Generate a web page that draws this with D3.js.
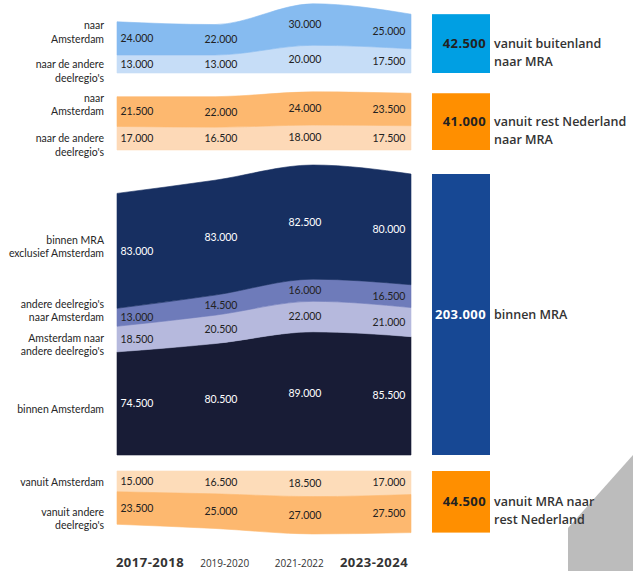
<!DOCTYPE html>
<html>
<head>
<meta charset="utf-8">
<script src="https://cdn.jsdelivr.net/npm/d3@7"></script>
<style>
  html, body { margin: 0; padding: 0; background: #fff; }
  svg { display: block; }
</style>
</head>
<body>
<svg id="chart" width="633" height="571"></svg>
<script>
// ---------- DATA ----------
const years = ["2017-2018", "2019-2020", "2021-2022", "2023-2024"];
const boldYears = ["2017-2018", "2023-2024"];

// vanuit buitenland naar MRA
const buitenlandNaarAmsterdam = [24000, 22000, 30000, 25000];
const buitenlandNaarDeelregios = [13000, 13000, 20000, 17500];
// vanuit rest Nederland naar MRA
const restNLNaarAmsterdam = [21500, 22000, 24000, 23500];
const restNLNaarDeelregios = [17000, 16500, 18000, 17500];
// binnen MRA
const binnenMRAExclAmsterdam = [83000, 83000, 82500, 80000];
const deelregiosNaarAmsterdam = [13000, 14500, 16000, 16500];
const amsterdamNaarDeelregios = [18500, 20500, 22000, 21000];
const binnenAmsterdam = [74500, 80500, 89000, 85500];
// vanuit MRA naar rest Nederland
const vanuitAmsterdam = [15000, 16500, 18500, 17000];
const vanuitAndereDeelregios = [23500, 25000, 27000, 27500];

// totals shown in the bars (latest period)
const totalLabels = ["vanuit buitenland|naar MRA", "vanuit rest Nederland|naar MRA", "binnen MRA", "vanuit MRA naar|rest Nederland"];
const totals = [42500, 41000, 203000, 44500];

// ---------- SETUP ----------
const svg = d3.select("#chart");
const fmt = v => d3.format(",")(v).replace(/,/g, ".");

// grey map fragment in the corner (background)
svg.append("path")
  .attr("d", "M568,571 L568,528 L633,455 L633,571 Z")
  .attr("fill", "#bcbcbc");

const x = d3.scalePoint(years, [117, 411]);
const xLabel = d3.scalePoint(years, [137, 389]);
const xYear = d3.scalePoint(years, [150, 374]);
const len = d3.scaleLinear().domain([0, 203000]).range([0, 281]);

const groups = [
  { base: 73, dir: -1, bar: { x: 432, color: "#009fe3", text: "#222" }, total: 0,
    layers: [
      { values: buitenlandNaarDeelregios, color: "#c6ddf7", text: "#222", label: ["naar de andere", "deelregio's"], dy: 7.5 },
      { values: buitenlandNaarAmsterdam, color: "#86bbf0", text: "#222", label: ["naar", "Amsterdam"], dy: -6 }
    ]},
  { base: 150, dir: -1, bar: { x: 432, color: "#ff8f00", text: "#222" }, total: 1,
    layers: [
      { values: restNLNaarDeelregios, color: "#fdd9b7", text: "#222", label: ["naar de andere", "deelregio's"], dy: 7 },
      { values: restNLNaarAmsterdam, color: "#fdb86f", text: "#222", label: ["naar", "Amsterdam"], dy: -7 }
    ]},
  { base: 455, dir: -1, bar: { x: 432, color: "#174894", text: "#fff" }, total: 2,
    layers: [
      { values: binnenAmsterdam, color: "#181c36", text: "#fff", label: ["binnen Amsterdam"], dy: 5.6 },
      { values: amsterdamNaarDeelregios, color: "#b6b9dd", text: "#222", label: ["Amsterdam naar", "andere deelregio's"], dy: 6 },
      { values: deelregiosNaarAmsterdam, color: "#6e7bba", text: "#222", label: ["andere deelregio's", "naar Amsterdam"], dy: -6.5 },
      { values: binnenMRAExclAmsterdam, color: "#172f61", text: "#fff", label: ["binnen MRA", "exclusief Amsterdam"], dy: -4 }
    ]},
  { base: 471, dir: 1, bar: { x: 432, color: "#ff8f00", text: "#222" }, total: 3,
    layers: [
      { values: vanuitAmsterdam, color: "#fddcb9", text: "#222", label: ["vanuit Amsterdam"], dy: 0.6 },
      { values: vanuitAndereDeelregios, color: "#fdb86f", text: "#222", label: ["vanuit andere", "deelregio's"], dy: 11 }
    ]}
];

const area = d3.area()
  .x(d => x(d.year))
  .y0(d => d.y0)
  .y1(d => d.y1)
  .curve(d3.curveMonotoneX);

const gStreams = svg.append("g");
const gLabels = svg.append("g");

groups.forEach(g => {
  const cum = years.map(() => 0);
  g.layers.forEach(layer => {
    const pts = years.map((yr, i) => {
      const a = g.base + g.dir * len(cum[i]);
      const b = g.base + g.dir * len(cum[i] + layer.values[i]);
      return { year: yr, y0: a, y1: b, v: layer.values[i] };
    });
    years.forEach((yr, i) => cum[i] += layer.values[i]);

    gStreams.append("path")
      .attr("d", area(pts))
      .attr("fill", layer.color)
      .attr("stroke", layer.color)
      .attr("stroke-width", 0.6);

    // value labels
    pts.forEach((p, i) => {
      gLabels.append("text")
        .attr("x", xLabel(p.year))
        .attr("y", (p.y0 + p.y1) / 2)
        .attr("dy", "0.35em")
        .attr("text-anchor", "middle")
        .attr("font-family", "Lato, 'Open Sans', sans-serif")
        .attr("font-size", 10.5)
        .attr("fill", layer.text)
        .text(fmt(p.v));
    });

    // left category labels
    const mid = (pts[0].y0 + pts[0].y1) / 2 + layer.dy;
    const lh = 13.5;
    const n = layer.label.length;
    layer.label.forEach((line, j) => {
      gLabels.append("text")
        .attr("x", 104)
        .attr("y", mid + (j - (n - 1) / 2) * lh)
        .attr("dy", "0.35em")
        .attr("text-anchor", "end")
        .attr("font-family", "Lato, 'Open Sans', sans-serif")
        .attr("font-size", 10.5)
        .attr("fill", "#262626")
        .text(line);
    });
  });

  // total bar
  const total = totals[g.total];
  const y0 = g.base;
  const y1 = g.base + g.dir * len(total);
  const top = Math.min(y0, y1), h = Math.abs(y1 - y0);
  svg.append("rect")
    .attr("x", g.bar.x).attr("y", top)
    .attr("width", 58).attr("height", h)
    .attr("fill", g.bar.color);
  const cy = top + h / 2;
  svg.append("text")
    .attr("x", 486).attr("y", cy)
    .attr("dy", "0.35em")
    .attr("text-anchor", "end")
    .attr("font-family", "'Open Sans', sans-serif")
    .attr("font-size", 13)
    .attr("font-weight", 700)
    .attr("letter-spacing", 0.4)
    .attr("fill", g.bar.text)
    .text(fmt(total));
  const lines = totalLabels[g.total].split("|");
  lines.forEach((line, j) => {
    svg.append("text")
      .attr("x", 494)
      .attr("y", cy + j * 18)
      .attr("dy", "0.35em")
      .attr("font-family", "'Open Sans', sans-serif")
      .attr("font-size", 12.5)
      .attr("font-weight", 600)
      .attr("fill", "#333")
      .text(line);
  });
});

// year labels
svg.append("g").selectAll("text")
  .data(years)
  .join("text")
  .attr("x", d => xYear(d))
  .attr("y", 567)
  .attr("text-anchor", "middle")
  .attr("font-family", "'Open Sans', sans-serif")
  .attr("font-size", d => boldYears.includes(d) ? 13 : 10)
  .attr("font-weight", d => boldYears.includes(d) ? 700 : 400)
  .attr("letter-spacing", d => boldYears.includes(d) ? 0.5 : 0)
  .attr("fill", "#333")
  .text(d => d);
</script>
</body>
</html>
